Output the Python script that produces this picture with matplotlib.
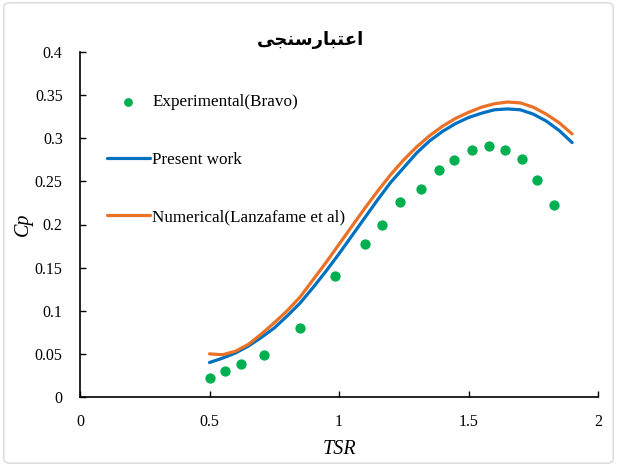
import matplotlib
matplotlib.use("Agg")
import matplotlib.pyplot as plt
from matplotlib.patches import FancyBboxPatch

# Experimental (Bravo)
exp_tsr = [0.5, 0.56, 0.62, 0.71, 0.85, 0.985, 1.10, 1.166, 1.236, 1.317, 1.386, 1.444,
           1.513, 1.579, 1.641, 1.707, 1.764, 1.830]
exp_cp = [0.022, 0.030, 0.038, 0.049, 0.080, 0.140, 0.177, 0.200, 0.226, 0.241, 0.263, 0.275,
          0.286, 0.291, 0.286, 0.276, 0.252, 0.223]

# Present work / Numerical (Lanzafame et al)
tsr_line = [0.5, 0.55, 0.6, 0.65, 0.7, 0.75, 0.8, 0.85, 0.9, 0.95, 1.0, 1.05, 1.1, 1.15,
            1.2, 1.25, 1.3, 1.35, 1.4, 1.45, 1.5, 1.55, 1.6, 1.65, 1.7, 1.75, 1.8, 1.85, 1.9]
present_cp = [0.040, 0.045, 0.051, 0.059, 0.069, 0.080, 0.094, 0.109, 0.127, 0.146, 0.166,
              0.187, 0.208, 0.229, 0.249, 0.266, 0.283, 0.297, 0.308, 0.317, 0.324, 0.329,
              0.333, 0.334, 0.333, 0.328, 0.320, 0.309, 0.295]
numerical_cp = [0.050, 0.049, 0.053, 0.061, 0.073, 0.086, 0.100, 0.116, 0.136, 0.156, 0.177,
                0.198, 0.219, 0.239, 0.258, 0.275, 0.290, 0.303, 0.314, 0.323, 0.330, 0.336,
                0.340, 0.342, 0.341, 0.336, 0.328, 0.318, 0.305]

x_ticks = [0, 0.5, 1, 1.5, 2]
x_tick_labels = ["0", "0.5", "1", "1.5", "2"]
y_ticks = [0, 0.05, 0.1, 0.15, 0.2, 0.25, 0.3, 0.35, 0.4]
y_tick_labels = ["0", "0.05", "0.1", "0.15", "0.2", "0.25", "0.3", "0.35", "0.4"]

# Persian title "اعتبارسنجی" written in presentation forms, visual order (LTR rendering)
title_text = "\uFEF0\uFEA0\uFEE8\uFEB3\uFEAD\uFE8E\uFE92\uFE98\uFECB\uFE8D"

serif = "Liberation Serif"

fig = plt.figure(figsize=(6.17, 4.66), dpi=100)
ax = fig.add_axes([80/617, 1-397/466, 518/617, 345/466])

ax.scatter(exp_tsr, exp_cp, s=55, color="#00B050", zorder=3, label="Experimental(Bravo)",
           linewidths=0)
ax.plot(tsr_line, present_cp, color="#0070C0", lw=2.3, label="Present work",
        solid_capstyle="round")
ax.plot(tsr_line, numerical_cp, color="#EA7125", lw=2.3, label="Numerical(Lanzafame et al)",
        solid_capstyle="round")

ax.set_xlim(0, 2)
ax.set_ylim(0, 0.4)
ax.set_xticks(x_ticks)
ax.set_xticklabels(x_tick_labels, fontfamily=serif, fontsize=11.5)
ax.set_yticks(y_ticks)
ax.set_yticklabels(y_tick_labels, fontfamily=serif, fontsize=11.5)
ax.tick_params(direction="in", length=4, width=1, color="black", pad=12.5)
for s in ["top", "right"]:
    ax.spines[s].set_visible(False)
for s in ["left", "bottom"]:
    ax.spines[s].set_color("black")
    ax.spines[s].set_linewidth(1.2)

ax.set_xlabel("TSR", fontfamily=serif, fontstyle="italic", fontsize=14.5, labelpad=7)
ax.set_ylabel("Cp", fontfamily=serif, fontstyle="italic", fontsize=14.5, labelpad=1)

leg = ax.legend(loc="upper left", bbox_to_anchor=(0.039, 0.897), borderaxespad=0,
                frameon=False, prop={"family": serif, "size": 12.3}, labelspacing=2.42,
                handlelength=2.5, handletextpad=0.15, scatterpoints=1, markerscale=0.85)

fig.text(310/617, 1-40/466, title_text, ha="center", va="center", fontsize=13,
         fontweight="bold", family=["DejaVu Sans"])

border = FancyBboxPatch((0.006, 0.006), 0.988, 0.988, boxstyle="round,pad=0,rounding_size=0.01",
                        transform=fig.transFigure, fill=False, edgecolor="#D9D9D9", lw=1)
fig.patches.append(border)

fig.savefig("out.png", dpi=100)
